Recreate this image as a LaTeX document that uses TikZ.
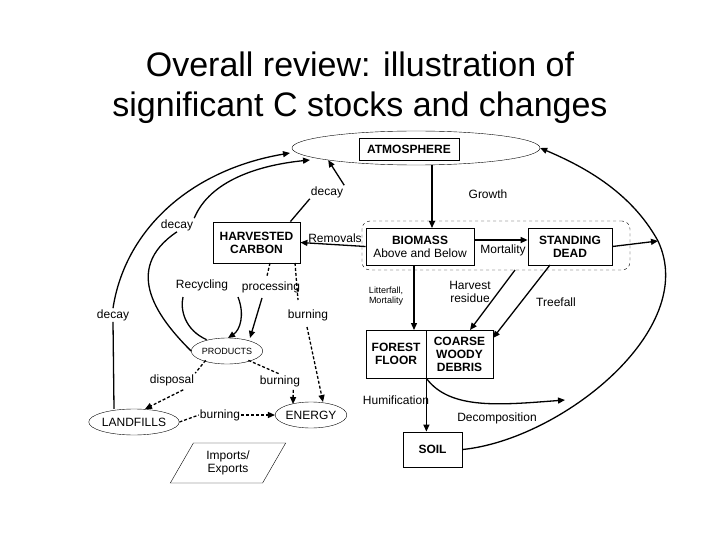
\documentclass[tikz,border=0pt]{standalone}
\usepackage{fontspec}
\setmainfont{Liberation Sans}
\usetikzlibrary{arrows.meta,shapes.geometric}
\begin{document}
\begin{tikzpicture}[x=1pt,y=-1pt,
  box/.style={draw,thick,align=center,font=\bfseries\fontsize{12}{13}\selectfont,inner sep=0pt},
  ell/.style={draw,ellipse,inner sep=0pt,font=\fontsize{12}{13}\selectfont},
  lab/.style={font=\fontsize{12}{13}\selectfont,align=center,inner sep=1pt},
  ar/.style={line width=1.3pt,-{Triangle[length=7pt,width=6pt]}},
  ln/.style={line width=1.3pt},
  da/.style={line width=1.3pt,dashed,dash pattern=on 3pt off 2pt,-{Triangle[length=7pt,width=6pt]}},
  dl/.style={line width=1.3pt,dashed,dash pattern=on 3pt off 2pt}]
\useasboundingbox (0,0) rectangle (720,540);
\node[font=\fontsize{34}{40}\selectfont,align=center] (title) at (360,88) {Overall review: illustration of\\significant C stocks and changes};
% nodes
\node[ell,minimum width=248,minimum height=34] (atm) at (416,148) {};
\node[box,minimum width=100,minimum height=22] (atmb) at (409,149) {ATMOSPHERE};
\node[draw,dashed,rounded corners=8pt,minimum width=268,minimum height=49] (grp) at (496,245.5) {};
\node[box,minimum width=108,minimum height=37] (bio) at (420,246.5) {BIOMASS\\\mdseries Above and Below};
\node[box,minimum width=84,minimum height=37] (sd) at (570,246.5) {STANDING\\DEAD};
\node[box,minimum width=87,minimum height=41] (hc) at (256.5,242.5) {HARVESTED\\CARBON};
\node[box,minimum width=60,minimum height=48] (ff) at (396,354) {FOREST\\FLOOR};
\node[box,minimum width=67,minimum height=48] (cwd) at (459.5,354) {COARSE\\WOODY\\DEBRIS};
\node[box,minimum width=59,minimum height=35] (soil) at (432.5,449.5) {SOIL};
\node[ell,minimum width=66,minimum height=26,font=\fontsize{9}{10}\selectfont] (prod) at (227,351) {PRODUCTS};
\node[ell,minimum width=80,minimum height=26] (land) at (134,422) {LANDFILLS};
\node[ell,minimum width=66,minimum height=26] (en) at (311,415) {ENERGY};
\node[draw,trapezium,trapezium left angle=60,trapezium right angle=120,minimum width=80,minimum height=40,align=center,font=\fontsize{12}{13}\selectfont,inner sep=1pt] (imp) at (228,463) {Imports/\\Exports};
% labels
\node[lab] (ldecay1) at (327,192) {decay};
\node[lab] (lgrowth) at (488,194) {Growth};
\node[lab] (ldecay2) at (177,225) {decay};
\node[lab] (lrem) at (335,238) {Removals};
\node[lab] (lmort) at (503,250) {Mortality};
\node[lab] (lrec) at (202,285) {Recycling};
\node[lab] (lproc) at (271,287) {processing};
\node[lab,font=\fontsize{9}{10}\selectfont] (llit) at (386,296) {Litterfall,\\Mortality};
\node[lab] (lhr) at (470,292) {Harvest\\residue};
\node[lab] (ltree) at (556,302) {Treefall};
\node[lab] (ldecay3) at (113,315) {decay};
\node[lab] (lburn1) at (308,315) {burning};
\node[lab] (ldisp) at (172,380) {disposal};
\node[lab] (lburn2) at (280,381) {burning};
\node[lab] (lhum) at (396,400) {Humification};
\node[lab] (lburn3) at (220,415) {burning};
\node[lab] (ldec) at (497,418) {Decomposition};
\coordinate (jr) at (658,241);
\coordinate (jd) at (565,400);
% forest connectors
\draw[ar] (432,165) -- (432,228);
\draw[ar] (bio.west) -- (hc.east);
\draw[ar] (bio.east |- 240,240) -- (sd.west |- 240,240);
\draw[ar] (sd.east) -- (jr);
\draw[ar] (soil.east) .. controls (560,440) and (700,330) .. (jr) .. controls (630,190) and (580,165) .. (atm.east);
\draw[ar] (ff.south east) .. controls (450,410) and (500,405) .. (jd);
\draw[ar] (ff.south east) -- (soil.north -| ff.south east);
\draw[ar] (414,265) -- (414,330);
\draw[ar] (515,270) -- (470,330);
\draw[ar] (550,265) -- (493,338);
\draw[ln] (hc.north east) ++(-10,0) -- (ldecay1.south west);
\draw[ar] (ldecay1.north east) -- (atm.south west);
% harvested flows
\draw[ar] (ldecay2.north east) .. controls (210,180) and (260,165) .. (310,160);
\draw[ln] (prod.west) .. controls (160,320) and (120,270) .. (ldecay2.south);
\draw[ln] (land.north) ++(-20,0) -- (ldecay3.south);
\draw[ar] (ldecay3.north) .. controls (125,230) and (190,170) .. (290,153);
\draw[ln] (prod.north west) ++(5,-2) .. controls (185,330) and (180,310) .. (183,297);
\draw[ar] (238,297) .. controls (245,315) and (240,330) .. (228,338);
\draw[dl] (270,263) -- (267,276);
\draw[ar] (262,298) -- (250,338);
\draw[dl] (295,263) -- (298,300);
\draw[da] (307,327) -- (323,402);
\draw[dl] (prod.south west) ++(4,0) -- (ldisp.north east);
\draw[da] (ldisp.south east) ++(-12,3) -- (145,409);
\draw[dl] (prod.south east) ++(-4,0) -- (lburn2.north);
\draw[da] (lburn2.south east) ++(-8,2) -- (293,404);
\draw[dl] (land.east) -- (lburn3.west);
\draw[da] (lburn3.east) -- (en.west);
\end{tikzpicture}
\end{document}
